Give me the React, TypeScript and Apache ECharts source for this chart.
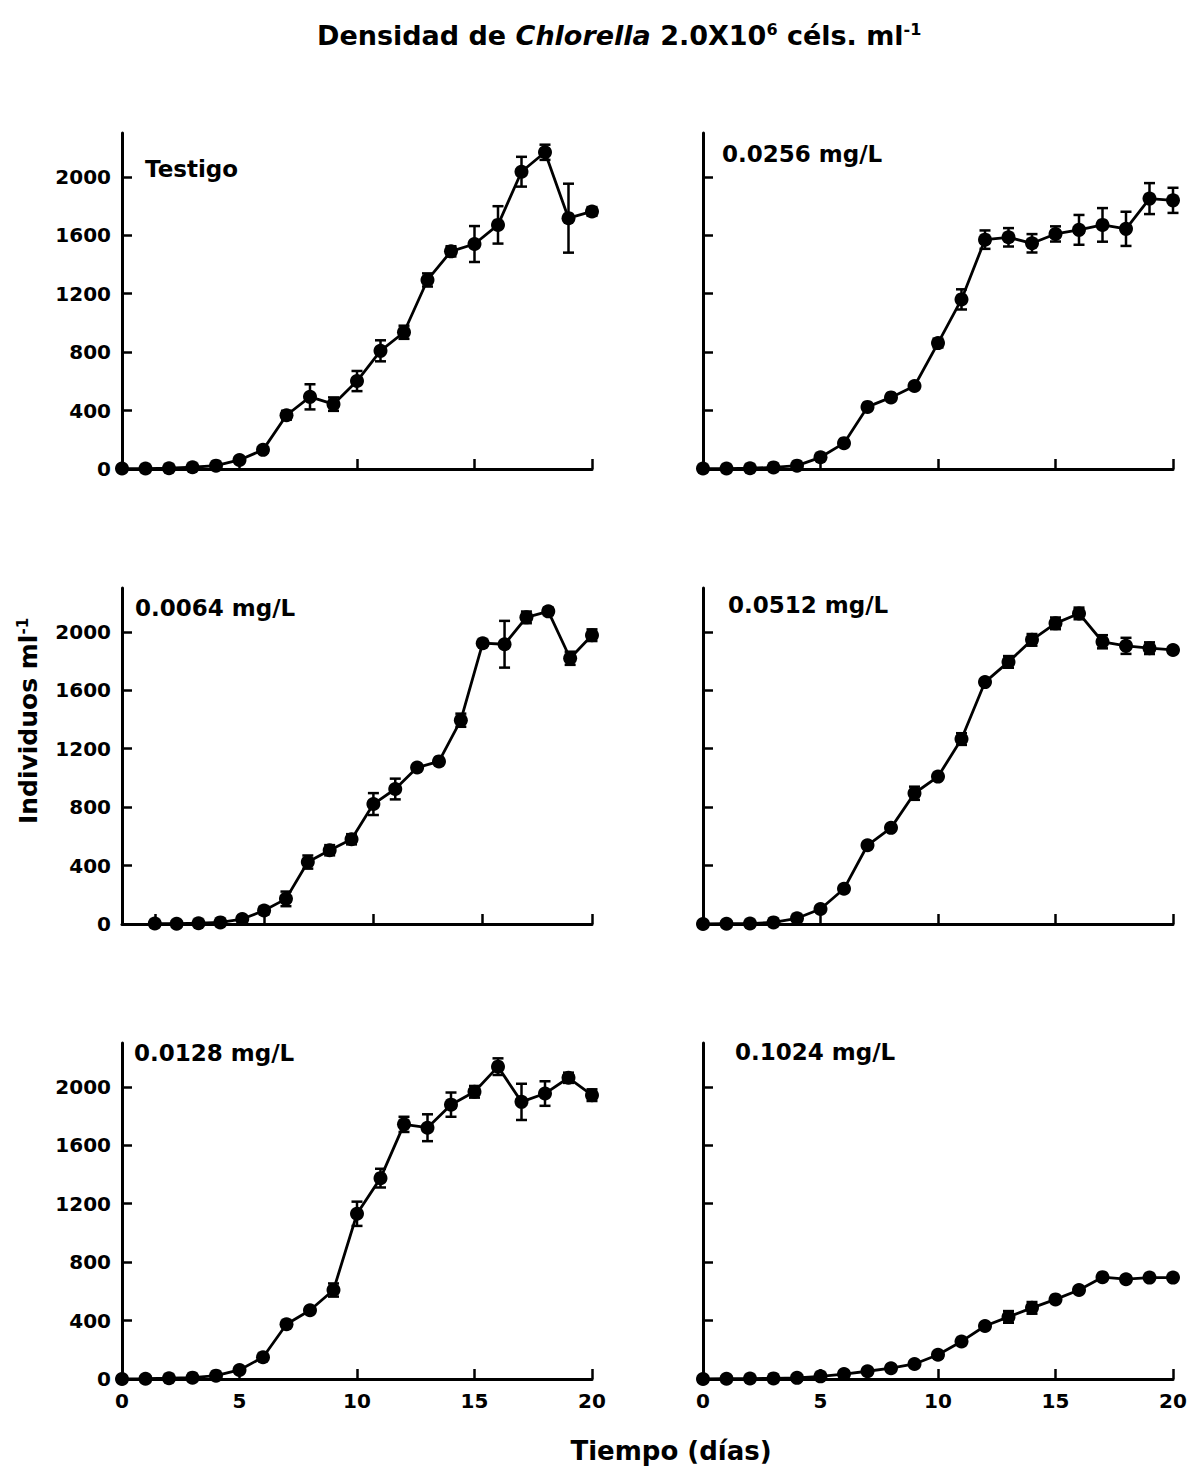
import React, { useEffect, useRef } from "react";
import * as echarts from "echarts";

const days = [0, 1, 2, 3, 4, 5, 6, 7, 8, 9, 10, 11, 12, 13, 14, 15, 16, 17, 18, 19, 20];
const yTicks = [0, 400, 800, 1200, 1600, 2000];
const xTicks = [0, 5, 10, 15, 20];

const panelNames = ["Testigo", "0.0256 mg/L", "0.0064 mg/L", "0.0512 mg/L", "0.0128 mg/L", "0.1024 mg/L"];

const testigo = [3, 3, 5, 12, 23, 62, 131, 368, 494, 444, 602, 809, 936, 1294, 1490, 1540, 1671, 2035, 2168, 1717, 1763];
const testigoErr = [0, 0, 0, 0, 0, 0, 0, 30, 86, 46, 69, 72, 45, 45, 35, 123, 128, 102, 52, 236, 30];

const c0256 = [3, 3, 5, 11, 23, 80, 177, 425, 490, 568, 862, 1161, 1570, 1586, 1545, 1609, 1637, 1671, 1644, 1851, 1839];
const c0256Err = [0, 0, 0, 0, 0, 0, 0, 0, 0, 0, 30, 69, 63, 63, 63, 52, 102, 115, 117, 106, 86];

const c0064 = [3, 2, 5, 11, 34, 92, 172, 424, 505, 580, 821, 924, 1071, 1113, 1395, 1922, 1915, 2099, 2140, 1819, 1977];
const c0064Err = [0, 0, 0, 0, 0, 25, 50, 45, 35, 35, 75, 71, 0, 0, 45, 0, 160, 40, 25, 45, 40];

const c0512 = [0, 2, 3, 11, 39, 103, 241, 539, 658, 895, 1009, 1266, 1656, 1794, 1945, 2058, 2126, 1932, 1904, 1888, 1876];
const c0512Err = [0, 0, 0, 0, 0, 0, 0, 0, 0, 45, 0, 40, 0, 40, 40, 40, 40, 45, 55, 40, 0];

const c0128 = [0, 2, 5, 9, 23, 62, 149, 375, 471, 609, 1131, 1375, 1743, 1720, 1878, 1966, 2138, 1897, 1954, 2062, 1943];
const c0128Err = [0, 0, 0, 0, 0, 0, 0, 0, 0, 45, 83, 64, 52, 92, 83, 40, 57, 124, 84, 35, 40];

const c1024 = [0, 2, 3, 4, 8, 18, 34, 53, 74, 103, 166, 257, 363, 425, 487, 545, 609, 697, 683, 694, 694];
const c1024Err = [0, 0, 0, 0, 0, 0, 0, 0, 0, 0, 0, 0, 0, 40, 40, 0, 0, 0, 0, 0, 0];

const panelValues = [testigo, c0256, c0064, c0512, c0128, c1024];
const panelErrors = [testigoErr, c0256Err, c0064Err, c0512Err, c0128Err, c1024Err];
const panelXMin = [0, 0, -1.5, 0, 0, 0];

const FONT = "DejaVu Sans";

export default function App() {
  const ref = useRef<HTMLDivElement>(null);

  useEffect(() => {
    if (!ref.current) return;
    const chart = echarts.init(ref.current, undefined, { renderer: "svg" });

    const colLeft = [122, 703];
    const rowTop = [133, 588, 1043];
    const gridW = 470;
    const gridH = 336;

    const grids: any[] = [];
    const xAxes: any[] = [];
    const yAxes: any[] = [];
    const series: any[] = [];
    const graphics: any[] = [];

    const labelPos = [
      [145, 169],
      [722, 154],
      [135, 608],
      [728, 605],
      [134, 1053],
      [735, 1052],
    ];

    for (let i = 0; i < 6; i++) {
      const row = Math.floor(i / 2);
      const col = i % 2;
      grids.push({ left: colLeft[col], top: rowTop[row], width: gridW, height: gridH });
      const isBottom = row === 2;
      xAxes.push({
        type: "value",
        gridIndex: i,
        min: panelXMin[i],
        max: 20,
        splitLine: { show: false },
        axisLine: { onZero: false, lineStyle: { color: "#000", width: 3 } },
        axisTick: {
          show: true,
          inside: true,
          length: 10,
          customValues: xTicks,
          lineStyle: { color: "#000", width: 2.5 },
        },
        axisLabel: {
          show: isBottom,
          customValues: xTicks,
          formatter: (v: number) => String(v),
          color: "#000",
          fontFamily: FONT,
          fontWeight: "bold",
          fontSize: 20,
          margin: 12,
        },
      });
      yAxes.push({
        type: "value",
        gridIndex: i,
        min: 0,
        max: 2300,
        splitLine: { show: false },
        axisLine: { show: true, onZero: false, lineStyle: { color: "#000", width: 3 } },
        axisTick: {
          show: true,
          inside: true,
          length: 10,
          customValues: yTicks,
          lineStyle: { color: "#000", width: 2.5 },
        },
        axisLabel: {
          show: col === 0,
          customValues: yTicks,
          formatter: (v: number) => String(v),
          color: "#000",
          fontFamily: FONT,
          fontWeight: "bold",
          fontSize: 20,
          margin: 11,
        },
      });

      const vals = panelValues[i];
      const errs = panelErrors[i];
      series.push({
        type: "custom",
        xAxisIndex: i,
        yAxisIndex: i,
        z: 3,
        data: days.map((d, k) => [d, vals[k] - errs[k], vals[k] + errs[k]]),
        encode: { x: 0, y: [1, 2] },
        renderItem: (params: any, api: any) => {
          const x = api.value(0);
          const lo = api.value(1);
          const hi = api.value(2);
          if (hi - lo <= 0) return { type: "group", children: [] };
          const p1 = api.coord([x, hi]);
          const p2 = api.coord([x, lo]);
          const w = 5.5;
          const st = { stroke: "#000", lineWidth: 2.5 };
          return {
            type: "group",
            children: [
              { type: "line", shape: { x1: p1[0], y1: p1[1], x2: p2[0], y2: p2[1] }, style: st },
              { type: "line", shape: { x1: p1[0] - w, y1: p1[1], x2: p1[0] + w, y2: p1[1] }, style: st },
              { type: "line", shape: { x1: p2[0] - w, y1: p2[1], x2: p2[0] + w, y2: p2[1] }, style: st },
            ],
          };
        },
      });
      series.push({
        type: "line",
        xAxisIndex: i,
        yAxisIndex: i,
        z: 4,
        clip: false,
        data: days.map((d, k) => [d, vals[k]]),
        symbol: "circle",
        symbolSize: 14,
        itemStyle: { color: "#000" },
        lineStyle: { color: "#000", width: 2.8 },
      });

      graphics.push({
        type: "text",
        x: labelPos[i][0],
        y: labelPos[i][1],
        style: {
          text: panelNames[i],
          fill: "#000",
          font: `bold 23px "${FONT}"`,
          align: "left",
          verticalAlign: "middle",
        },
      });
    }

    graphics.push({
      type: "text",
      x: 317,
      y: 35,
      style: {
        text: "{b|Densidad de }{i|Chlorella}{b| 2.0X10}{s|6}{b| céls. ml}{s|-1}",
        align: "left",
        verticalAlign: "middle",
        fill: "#000",
        rich: {
          b: { fontFamily: FONT, fontWeight: "bold", fontSize: 27, fill: "#000" },
          i: { fontFamily: FONT, fontWeight: "bold", fontStyle: "italic", fontSize: 27, fill: "#000" },
          s: { fontFamily: FONT, fontWeight: "bold", fontSize: 16, fill: "#000", verticalAlign: "top", lineHeight: 12 },
        },
      },
    });

    graphics.push({
      type: "text",
      x: 28,
      y: 721,
      rotation: Math.PI / 2,
      style: {
        text: "{b|Individuos ml}{s|-1}",
        align: "center",
        verticalAlign: "middle",
        fill: "#000",
        rich: {
          b: { fontFamily: FONT, fontWeight: "bold", fontSize: 25, fill: "#000" },
          s: { fontFamily: FONT, fontWeight: "bold", fontSize: 15, fill: "#000", verticalAlign: "top", lineHeight: 12 },
        },
      },
    });

    graphics.push({
      type: "text",
      x: 671,
      y: 1451,
      style: {
        text: "Tiempo (días)",
        fill: "#000",
        font: `bold 26px "${FONT}"`,
        align: "center",
        verticalAlign: "middle",
      },
    });

    chart.setOption({
      animation: false,
      backgroundColor: "#fff",
      grid: grids,
      xAxis: xAxes,
      yAxis: yAxes,
      series,
      graphic: graphics,
    });

    return () => {
      chart.dispose();
    };
  }, []);

  return (
    <div
      ref={ref}
      style={{ position: "fixed", left: 0, top: 0, width: 1191, height: 1473, background: "#fff" }}
    />
  );
}
